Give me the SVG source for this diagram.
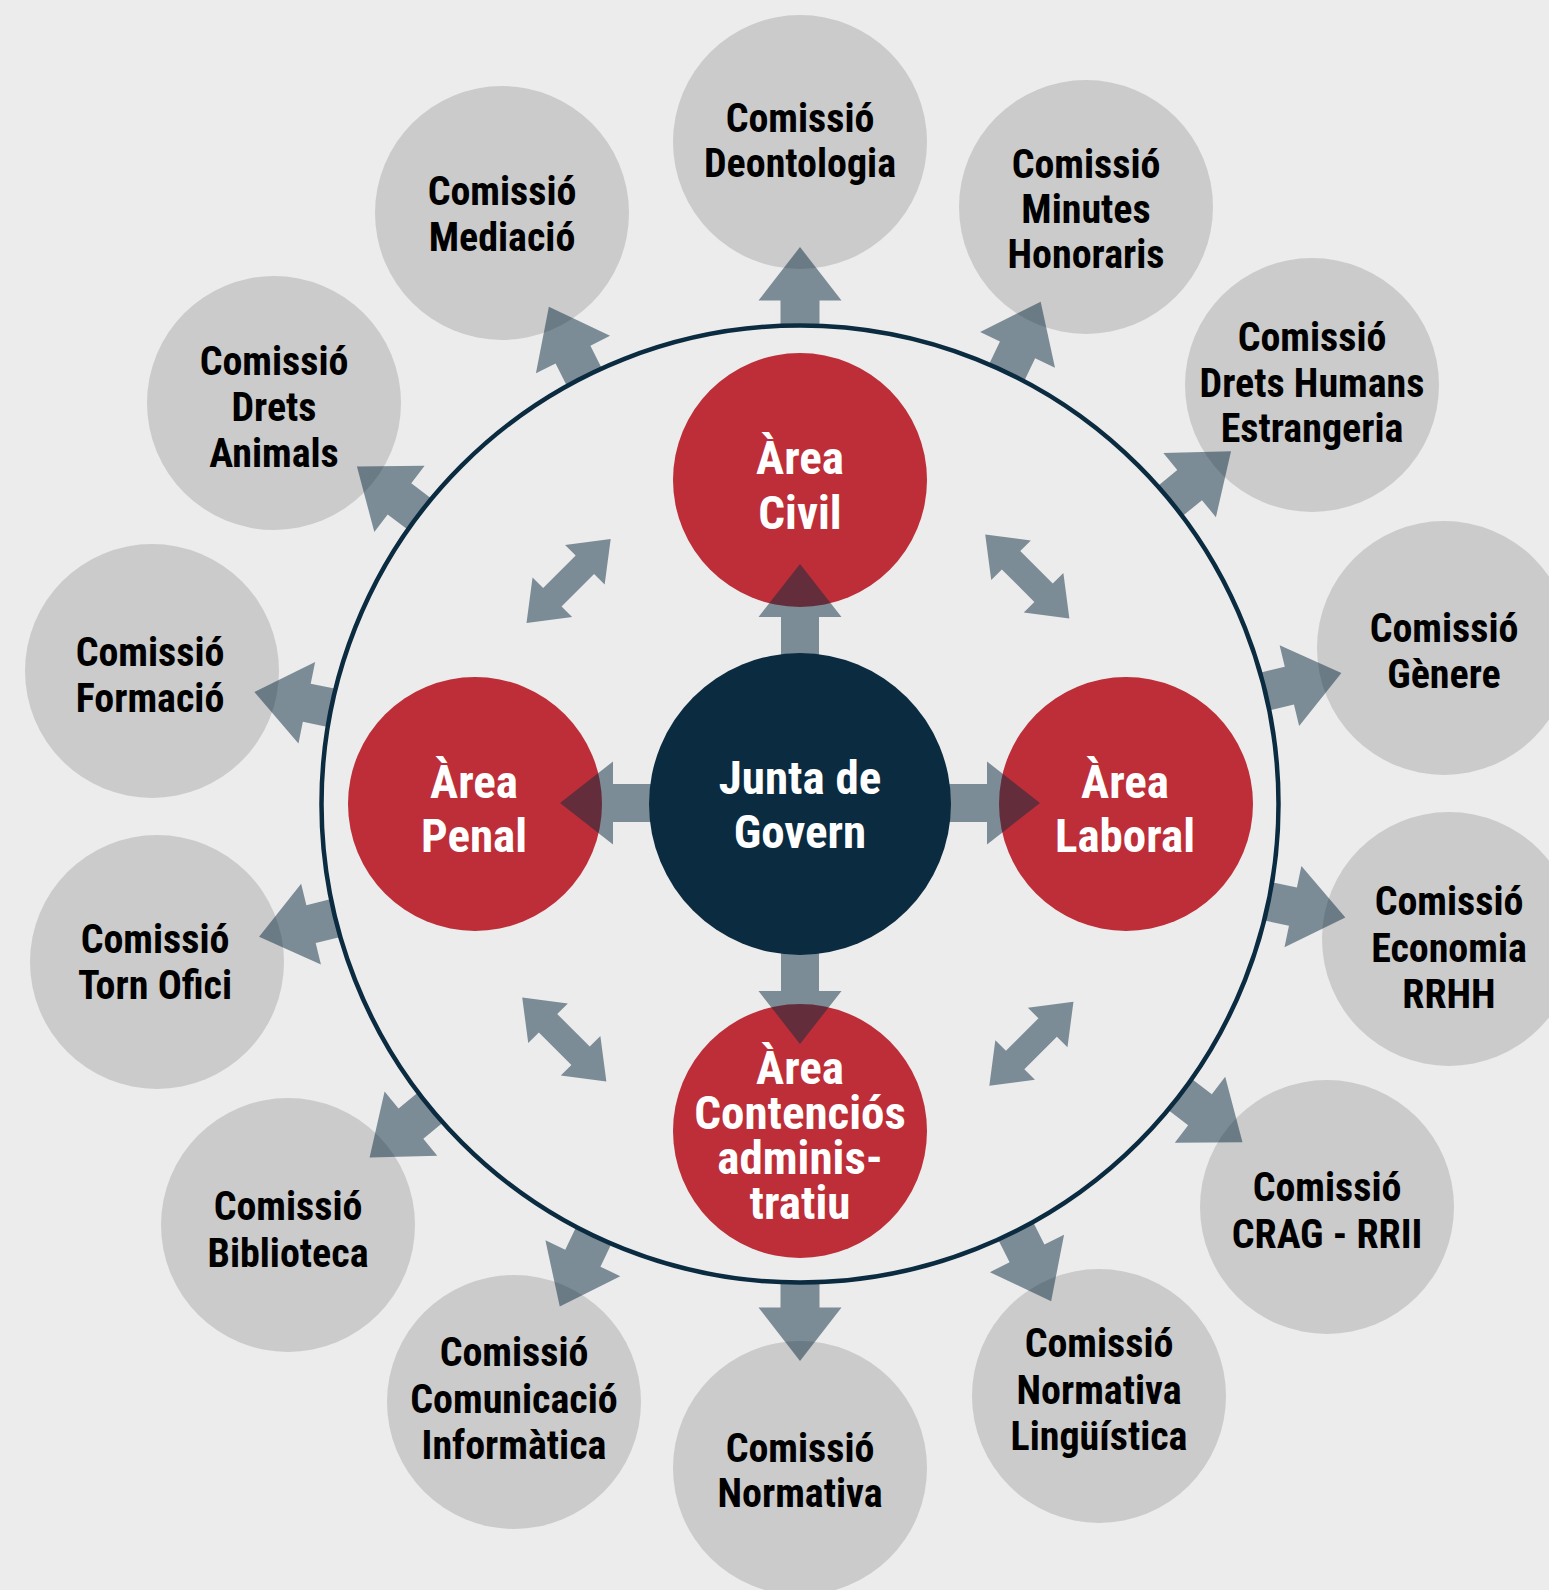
<svg xmlns="http://www.w3.org/2000/svg" width="1549" height="1590" viewBox="0 0 1549 1590">
<style>
.g{fill:#cbcbcb}
.r{fill:#bd2e38}
.n{fill:#0b2b40}
.a{fill:#0b2b40;fill-opacity:0.5}
.t{font-family:"Liberation Sans Narrow","Roboto Condensed","Arial Narrow","Liberation Sans",sans-serif;font-weight:bold;text-anchor:middle}
.tg{font-size:40px;fill:#000}
.tw{font-size:47px;fill:#fff}
</style>
<defs>
<path id="oa" d="M478,-19.5 L503.5,-19.5 L503.5,-41.5 L557,0 L503.5,41.5 L503.5,19.5 L478,19.5 Z"/>
<path id="ca" d="M140,-19 L187,-19 L187,-41.5 L240,0 L187,41.5 L187,19 L140,19 Z"/>
<path id="da" d="M59.5,0 L23,-28 L23,-13 L-23,-13 L-23,-28 L-59.5,0 L-23,28 L-23,13 L23,13 L23,28 Z"/>
</defs>
<rect x="0" y="0" width="1549" height="1590" fill="#ececec"/>

<g id="com-deontologia"><circle class="g" cx="800" cy="142" r="127"/><text class="t tg" x="800" y="132">Comissió</text><text class="t tg" x="800" y="177">Deontologia</text></g>
<g id="com-minutes"><circle class="g" cx="1086" cy="207" r="127"/><text class="t tg" x="1086" y="178">Comissió</text><text class="t tg" x="1086" y="223">Minutes</text><text class="t tg" x="1086" y="268">Honoraris</text></g>
<g id="com-drets-humans"><circle class="g" cx="1312" cy="385" r="127"/><text class="t tg" x="1312" y="351">Comissió</text><text class="t tg" x="1312" y="397">Drets Humans</text><text class="t tg" x="1312" y="442">Estrangeria</text></g>
<g id="com-genere"><circle class="g" cx="1444" cy="648" r="127"/><text class="t tg" x="1444" y="642">Comissió</text><text class="t tg" x="1444" y="688">Gènere</text></g>
<g id="com-economia"><circle class="g" cx="1449" cy="939" r="127"/><text class="t tg" x="1449" y="915">Comissió</text><text class="t tg" x="1449" y="962">Economia</text><text class="t tg" x="1449" y="1008">RRHH</text></g>
<g id="com-crag"><circle class="g" cx="1327" cy="1207" r="127"/><text class="t tg" x="1327" y="1201">Comissió</text><text class="t tg" x="1327" y="1248">CRAG - RRII</text></g>
<g id="com-linguistica"><circle class="g" cx="1099" cy="1396" r="127"/><text class="t tg" x="1099" y="1357">Comissió</text><text class="t tg" x="1099" y="1404">Normativa</text><text class="t tg" x="1099" y="1450">Lingüística</text></g>
<g id="com-normativa"><circle class="g" cx="800" cy="1468" r="127"/><text class="t tg" x="800" y="1462">Comissió</text><text class="t tg" x="800" y="1507">Normativa</text></g>
<g id="com-comunicacio"><circle class="g" cx="514" cy="1402" r="127"/><text class="t tg" x="514" y="1366">Comissió</text><text class="t tg" x="514" y="1413">Comunicació</text><text class="t tg" x="514" y="1459">Informàtica</text></g>
<g id="com-biblioteca"><circle class="g" cx="288" cy="1225" r="127"/><text class="t tg" x="288" y="1220">Comissió</text><text class="t tg" x="288" y="1267">Biblioteca</text></g>
<g id="com-torn"><circle class="g" cx="157" cy="962" r="127"/><text class="t tg" x="155" y="953">Comissió</text><text class="t tg" x="155" y="999">Torn Ofici</text></g>
<g id="com-formacio"><circle class="g" cx="152" cy="671" r="127"/><text class="t tg" x="150" y="666">Comissió</text><text class="t tg" x="150" y="712">Formació</text></g>
<g id="com-animals"><circle class="g" cx="274" cy="403" r="127"/><text class="t tg" x="274" y="375">Comissió</text><text class="t tg" x="274" y="421">Drets</text><text class="t tg" x="274" y="467">Animals</text></g>
<g id="com-mediacio"><circle class="g" cx="502" cy="213" r="127"/><text class="t tg" x="502" y="205">Comissió</text><text class="t tg" x="502" y="251">Mediació</text></g>

<g id="area-civil"><circle class="r" cx="800" cy="480" r="127"/><text class="t tw" x="800" y="474">Àrea</text><text class="t tw" x="800" y="529">Civil</text></g>
<g id="area-penal"><circle class="r" cx="475" cy="804" r="127"/><text class="t tw" x="474" y="798">Àrea</text><text class="t tw" x="474" y="852">Penal</text></g>
<g id="area-laboral"><circle class="r" cx="1126" cy="804" r="127"/><text class="t tw" x="1125" y="798">Àrea</text><text class="t tw" x="1125" y="852">Laboral</text></g>
<g id="area-contencios"><circle class="r" cx="800" cy="1131" r="127"/><text class="t tw" x="800" y="1084">Àrea</text><text class="t tw" x="800" y="1129">Contenciós</text><text class="t tw" x="800" y="1174">adminis-</text><text class="t tw" x="800" y="1219">tratiu</text></g>

<g id="connectors" class="a">
<use href="#oa" transform="translate(800 804) rotate(-90)"/>
<use href="#oa" transform="translate(800 804) rotate(-64.4)"/>
<use href="#oa" transform="translate(800 804) rotate(-39.3)"/>
<use href="#oa" transform="translate(800 804) rotate(-13.6)"/>
<use href="#oa" transform="translate(800 804) rotate(11.75)"/>
<use href="#oa" transform="translate(800 804) rotate(37.4)"/>
<use href="#oa" transform="translate(800 804) rotate(63.2)"/>
<use href="#oa" transform="translate(800 804) rotate(90)"/>
<use href="#oa" transform="translate(800 804) rotate(115.55)"/>
<use href="#oa" transform="translate(800 804) rotate(140.6)"/>
<use href="#oa" transform="translate(800 804) rotate(166.2)"/>
<use href="#oa" transform="translate(800 804) rotate(-168.4)"/>
<use href="#oa" transform="translate(800 804) rotate(-142.7)"/>
<use href="#oa" transform="translate(800 804) rotate(-116.8)"/>
<use href="#ca" transform="translate(800 804) rotate(-90)"/>
<use href="#ca" transform="translate(800 803) rotate(0)"/>
<use href="#ca" transform="translate(800 803) rotate(180)"/>
<use href="#ca" transform="translate(800 804) rotate(90)"/>
<use href="#da" transform="translate(568.6 581) rotate(-45)"/>
<use href="#da" transform="translate(1027.3 576.5) rotate(45)"/>
<use href="#da" transform="translate(564.3 1039.5) rotate(45)"/>
<use href="#da" transform="translate(1031.4 1043.8) rotate(-45)"/>
</g>

<g id="ring"><circle cx="800" cy="804" r="478.5" fill="none" stroke="#0b2b40" stroke-width="4.5"/></g>

<g id="junta"><circle class="n" cx="800" cy="804" r="151"/><text class="t tw" x="800" y="794">Junta de</text><text class="t tw" x="800" y="848">Govern</text></g>
</svg>
